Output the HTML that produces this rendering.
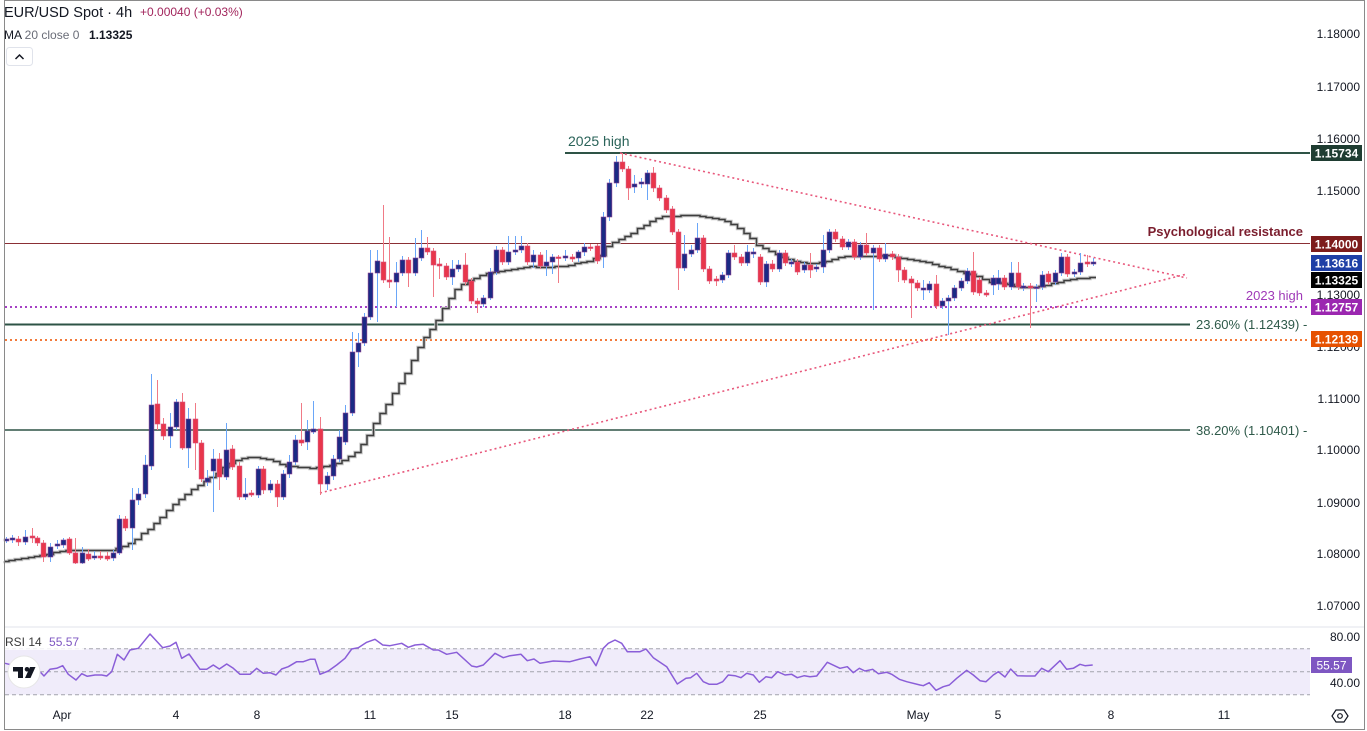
<!DOCTYPE html>
<html><head><meta charset="utf-8">
<style>
html,body{margin:0;padding:0;background:#fff;}
svg{display:block;font-family:"Liberation Sans",sans-serif;}
</style></head><body>
<svg id="c" width="1367" height="731" viewBox="0 0 1367 731" xmlns="http://www.w3.org/2000/svg">
<rect width="1367" height="731" fill="#fff"/>

<!-- RSI band -->
<rect x="5" y="648.7" width="1305" height="46" fill="#f0ecfa"/>
<g stroke="#a3a3ad" stroke-width="1" stroke-dasharray="4 3">
<line x1="5" y1="648.7" x2="1310" y2="648.7"/>
<line x1="5" y1="671.7" x2="1310" y2="671.7"/>
<line x1="5" y1="694.7" x2="1310" y2="694.7"/>
</g>
<line x1="5" y1="627" x2="1364" y2="627" stroke="#e0e3eb" stroke-width="1"/>

<!-- level lines -->
<line x1="5" y1="243.5" x2="1310" y2="243.5" stroke="#8b2f35" stroke-width="1"/>
<line x1="565" y1="153" x2="1310" y2="153" stroke="#2e5346" stroke-width="2"/>
<line x1="5" y1="324.5" x2="1190" y2="324.5" stroke="#2e5346" stroke-width="2"/>
<line x1="5" y1="430" x2="1190" y2="430" stroke="#2e5346" stroke-width="1.6"/>
<line x1="5" y1="307" x2="1310" y2="307" stroke="#a63fc6" stroke-width="2" stroke-dasharray="2 3"/>
<line x1="5" y1="340" x2="1310" y2="340" stroke="#f27a3a" stroke-width="2" stroke-dasharray="2 3"/>

<!-- triangle -->
<line x1="620" y1="153" x2="1187" y2="278" stroke="#e8587c" stroke-width="1.6" stroke-dasharray="2 3"/>
<line x1="320" y1="493" x2="1187" y2="274" stroke="#e8587c" stroke-width="1.6" stroke-dasharray="2 3"/>

<g id="ma"></g>
<g id="candles"></g>

<!-- labels on chart -->
<text x="568" y="146" font-size="14" fill="#2a6359">2025 high</text>
<text x="1303" y="236" font-size="13" font-weight="bold" fill="#7b1e2e" text-anchor="end">Psychological resistance</text>
<text x="1303" y="300" font-size="13" fill="#a03ab8" text-anchor="end">2023 high</text>
<text x="1196" y="329" font-size="13" fill="#2f5a4a">23.60% (1.12439) -</text>
<text x="1196" y="435" font-size="13" fill="#2f5a4a">38.20% (1.10401) -</text>

<!-- price axis -->
<g font-size="12" fill="#131722" text-anchor="end">
<text x="1360" y="38">1.18000</text>
<text x="1360" y="91">1.17000</text>
<text x="1360" y="143">1.16000</text>
<text x="1360" y="195">1.15000</text>
<text x="1360" y="299">1.13000</text>
<text x="1360" y="351">1.12000</text>
<text x="1360" y="403">1.11000</text>
<text x="1360" y="454">1.10000</text>
<text x="1360" y="507">1.09000</text>
<text x="1360" y="558">1.08000</text>
<text x="1360" y="610">1.07000</text>
<text x="1360" y="641">80.00</text>
<text x="1360" y="687">40.00</text>
</g>
<g font-size="12" font-weight="bold" fill="#fff" text-anchor="middle">
<rect x="1311" y="145" width="51" height="16" fill="#1f3d32"/><text x="1336.5" y="157.5">1.15734</text>
<rect x="1311" y="236" width="51" height="16" fill="#7d1c1c"/><text x="1336.5" y="248.5">1.14000</text>
<rect x="1311" y="255" width="51" height="16" fill="#1e3fa6"/><text x="1336.5" y="267.5">1.13616</text>
<rect x="1311" y="272" width="51" height="16" fill="#000"/><text x="1336.5" y="284.5">1.13325</text>
<rect x="1311" y="299" width="51" height="16" fill="#9b27b0"/><text x="1336.5" y="311.5">1.12757</text>
<rect x="1311" y="331" width="51" height="16" fill="#e65100"/><text x="1336.5" y="343.5">1.12139</text>
<rect x="1311" y="657" width="41" height="16" fill="#7e57c2"/><text x="1331.5" y="669.5" font-weight="normal">55.57</text>
</g>

<!-- RSI -->
<polyline id="rsi" fill="none" stroke="#8a5ed8" stroke-width="1.5" stroke-linejoin="round"/>
<rect x="4" y="634" width="80" height="16" fill="#fff" opacity="0.85"/>
<text x="5" y="646" font-size="12" fill="#3a3a3a">RSI 14 <tspan fill="#7e57c2" dx="4">55.57</tspan></text>

<!-- TV logo -->
<circle cx="24" cy="672" r="16" fill="#fff" stroke="#e6e6e6" stroke-width="1"/>
<rect x="13" y="667" width="10" height="4.5" fill="#131722"/>
<rect x="18" y="667" width="5" height="11" fill="#131722"/>
<circle cx="27" cy="669.3" r="2.3" fill="#131722"/>
<polygon points="30,667 35.5,667 30.5,678 25,678" fill="#131722"/>

<!-- time axis -->
<g font-size="12" fill="#131722" text-anchor="middle">
<text x="62" y="719">Apr</text>
<text x="176" y="719">4</text>
<text x="257" y="719">8</text>
<text x="370" y="719">11</text>
<text x="452" y="719">15</text>
<text x="565" y="719">18</text>
<text x="647" y="719">22</text>
<text x="760" y="719">25</text>
<text x="918" y="719">May</text>
<text x="998" y="719">5</text>
<text x="1111" y="719">8</text>
<text x="1224" y="719">11</text>
</g>
<polygon points="1336,710 1344,710 1348,716 1344,722 1336,722 1332,716" fill="none" stroke="#131722" stroke-width="1.2"/>
<circle cx="1340" cy="716" r="2.3" fill="none" stroke="#131722" stroke-width="1.2"/>

<!-- header -->
<text x="4" y="17" font-size="14.5" fill="#131722">EUR/USD Spot · 4h</text>
<text x="140" y="16" font-size="12" fill="#a2255c">+0.00040 (+0.03%)</text>
<text x="4" y="39" font-size="12" fill="#131722">MA <tspan fill="#6a6d78">20 close 0</tspan></text>
<text x="89" y="39" font-size="12" font-weight="bold" fill="#131722">1.13325</text>
<rect x="6.5" y="47.5" width="26" height="18" rx="3" fill="#fff" stroke="#e0e3eb"/>
<polyline points="15.5,59 19.5,55 23.5,59" fill="none" stroke="#131722" stroke-width="1.5"/>

<!-- border -->
<rect x="4.5" y="0.5" width="1360" height="729" fill="none" stroke="#8a8a8a" stroke-width="1"/>
</svg>
<script>
(function(){
var NS="http://www.w3.org/2000/svg";
var C=[
[6,539,541,'b',537,543],[12,538,540,'b',535,543],[18,539,542,'r',536,546],[25,537,542,'b',530,545],
[32,536,538,'r',528,543],[37,538,543,'r',536,546],[43,543,557,'r',540,562],[50,547,557,'b',543,562],
[57,544,546,'b',540,549],[63,540,545,'b',538,548],[69,539,553,'r',537,555],[75,553,563,'r',538,564],
[82,553,563,'b',547,564],[88,554,559,'r',549,561],[94,556,558,'b',551,560],[100,556,558,'r',551,560],
[107,556,559,'r',552,561],[113,553,558,'b',550,561],[119,519,553,'b',515,555],[125,519,528,'r',516,531],
[132,500,528,'b',488,550],[138,494,500,'b',488,505],[145,465,494,'b',455,498],[151,405,466,'b',374,470],
[157,404,424,'r',380,430],[163,424,436,'r',418,440],[170,427,436,'b',413,448],[176,402,427,'b',399,430],
[182,402,448,'r',393,450],[188,419,448,'b',408,468],[195,419,443,'r',403,470],[201,443,479,'r',440,482],
[207,478,482,'b',470,486],[213,459,471,'b',449,512],[219,459,477,'r',453,490],[226,450,477,'b',423,480],
[232,449,467,'r',445,470],[239,466,497,'r',462,500],[245,494,497,'b',478,500],[251,493,495,'r',490,497],
[258,469,495,'b',466,498],[263,469,490,'r',466,494],[270,484,490,'b',480,493],[277,484,497,'r',480,507],
[283,474,497,'b',470,500],[289,462,474,'b',455,478],[295,440,462,'b',435,465],[301,440,443,'r',403,446],
[307,431,442,'b',420,450],[313,429,432,'b',401,434],[320,429,484,'r',417,495],[327,476,484,'b',472,490],
[333,459,476,'b',455,480],[339,437,459,'b',430,462],[345,413,442,'b',405,445],[352,352,413,'b',332,416],
[358,343,352,'b',333,367],[364,317,343,'b',313,346],[370,273,317,'b',250,320],[377,261,273,'b',250,322],
[383,262,280,'r',205,283],[389,280,282,'r',237,288],[396,273,282,'b',262,307],[402,260,273,'b',256,276],
[408,260,273,'r',257,287],[415,258,273,'b',238,276],[421,248,258,'b',230,261],[427,248,252,'r',237,255],
[433,251,265,'r',248,297],[439,264,266,'r',258,279],[446,266,277,'r',263,280],[452,269,277,'b',260,285],
[458,265,269,'b',260,272],[465,265,282,'r',253,285],[471,281,301,'r',278,304],[477,301,304,'r',298,313],
[483,298,304,'b',295,307],[490,272,298,'b',268,300],[496,250,272,'b',246,275],[502,250,262,'r',247,265],
[508,252,262,'b',236,265],[515,250,252,'b',236,255],[521,246,250,'b',236,253],[527,246,262,'r',243,265],
[533,255,262,'b',250,268],[540,255,266,'r',252,269],[546,262,266,'b',250,276],[552,257,262,'b',254,274],
[558,257,258,'r',255,283],[565,256,258,'b',250,261],[572,257,259,'r',254,262],[578,252,258,'b',250,262],
[584,247,252,'b',243,256],[590,247,248,'r',244,251],[597,246,261,'r',244,264],[603,217,257,'b',212,268],
[609,183,217,'b',179,221],[616,162,183,'b',156,187],[622,162,169,'r',153,172],[628,169,188,'r',166,200],
[634,184,187,'b',175,193],[641,182,184,'b',178,188],[647,173,184,'b',170,200],[653,173,188,'r',167,192],
[659,188,198,'r',185,201],[666,198,210,'r',195,213],[672,209,232,'r',206,235],[678,232,268,'r',229,290],
[684,254,268,'b',235,271],[691,250,254,'b',245,257],[697,238,250,'b',223,253],[703,238,269,'r',235,272],
[709,269,281,'r',266,284],[716,279,281,'r',276,286],[722,275,280,'b',272,283],[728,253,275,'b',250,278],
[734,253,257,'r',245,260],[741,257,263,'r',254,266],[747,252,263,'b',245,266],[753,252,254,'b',248,258],
[760,257,282,'r',254,285],[766,264,282,'b',261,287],[772,264,269,'r',260,272],[779,253,269,'b',250,272],
[785,253,263,'r',250,266],[791,262,264,'b',259,267],[797,262,272,'r',259,275],[804,265,270,'b',262,273],
[810,265,270,'r',253,278],[816,267,269,'b',264,272],[823,250,267,'b',235,273],[829,232,250,'b',229,253],
[835,232,239,'r',229,242],[842,239,247,'r',236,250],[848,242,247,'b',239,250],[854,242,257,'r',239,260],
[860,245,257,'b',242,260],[866,245,253,'r',233,256],[873,248,253,'b',245,310],[879,248,259,'r',245,262],
[885,254,259,'b',243,262],[892,254,257,'r',251,260],[898,257,270,'r',254,282],[904,270,280,'r',267,283],
[911,279,283,'r',276,318],[917,283,288,'r',280,291],[923,288,290,'b',280,300],[929,284,290,'b',281,293],
[936,284,306,'r',275,309],[942,301,306,'b',298,309],[948,298,301,'b',295,335],[954,288,298,'b',285,301],
[961,281,288,'b',278,291],[967,271,281,'b',268,284],[973,271,292,'r',252,295],[979,280,293,'r',277,296],
[986,293,295,'r',290,297],[993,278,285,'b',275,295],[998,278,284,'b',270,290],[1004,278,287,'r',275,290],
[1011,273,287,'b',262,290],[1018,273,287,'r',262,290],[1023,286,288,'b',283,291],[1030,286,288,'r',283,328],
[1036,287,288,'b',284,302],[1042,275,287,'b',271,290],[1048,274,282,'r',271,285],[1055,273,282,'b',270,285],
[1061,257,273,'b',253,276],[1067,257,274,'r',254,277],[1074,272,274,'b',269,277],[1080,263,272,'b',253,275],
[1087,262,264,'r',255,267],[1093,262,264,'b',258,266]
];
var M=[[5,561],[43,555],[67,550],[113,550],[133,543],[153,527],[173,507],[193,490],[213,477],[233,462],[253,456],[273,460],[290,466],[317,468],[333,465],[350,458],[360,450],[370,435],[380,418],[390,402],[398,390],[410,370],[423,343],[437,323],[443,313],[457,290],[470,280],[490,273],[510,270],[530,266],[550,267],[570,265],[593,260],[603,255],[610,245],[627,237],[643,227],[660,217],[670,216],[693,215],[710,217],[727,220],[740,227],[750,235],[760,245],[773,252],[793,260],[813,263],[827,262],[840,257],[853,256],[870,256],[893,255],[903,258],[927,261],[947,267],[960,271],[977,275],[993,282],[1007,283],[1020,287],[1033,287],[1047,285],[1060,282],[1073,279],[1093,277]];
function mi(x){for(var i=0;i<M.length-1;i++){if(x>=M[i][0]&&x<=M[i+1][0]){var t=(x-M[i][0])/(M[i+1][0]-M[i][0]);return M[i][1]+t*(M[i+1][1]-M[i][1]);}}return x<M[0][0]?M[0][1]:M[M.length-1][1];}
var d="M5,"+Math.round(mi(5)).toFixed(1);
for(var i=0;i<C.length;i++){var x=C[i][0];var y=Math.round(mi(x))+0.5;var x1=(i==C.length-1?x+3:(C[i+1][0]+x)/2);d+=" V"+y+" H"+x1;}
var g=document.getElementById('ma');
var p1=document.createElementNS(NS,'path');p1.setAttribute('d',d);p1.setAttribute('fill','none');p1.setAttribute('stroke','#c4c4c4');p1.setAttribute('stroke-width','3.4');g.appendChild(p1);
var p2=document.createElementNS(NS,'path');p2.setAttribute('d',d);p2.setAttribute('fill','none');p2.setAttribute('stroke','#3e3e3e');p2.setAttribute('stroke-width','1.5');g.appendChild(p2);
var cg=document.getElementById('candles');
C.forEach(function(c){
var x=c[0]+0.5,t=c[1],b=c[2],bull=c[3]=='b',wt=c[4],wb=c[5];
var w=document.createElementNS(NS,'line');
w.setAttribute('x1',x);w.setAttribute('x2',x);w.setAttribute('y1',wt);w.setAttribute('y2',wb);
w.setAttribute('stroke',bull?'#6aa6f8':'#f07a86');w.setAttribute('stroke-width','1');cg.appendChild(w);
var r=document.createElementNS(NS,'rect');
var h=Math.max(b-t,1.5);
r.setAttribute('x',x-2.4);r.setAttribute('y',t);r.setAttribute('width',4.8);r.setAttribute('height',h);
r.setAttribute('fill',bull?'#1b2a84':'#e8364b');r.setAttribute('stroke',bull?'#8a3f8f':'#d8507a');r.setAttribute('stroke-width','0.6');
cg.appendChild(r);
});
var R=[[5,663.3],[40,671.7],[44,676],[50,669.3],[56.7,668.3],[62.7,665.7],[68.3,674.3],[76,680],[81.7,673.7],[87.3,676.3],[95,675],[101.7,675],[106.7,676],[111.7,671.7],[117.3,654.3],[124,660],[130,650],[138.3,648.3],[150,634],[162.7,647.7],[170,646],[176,642.3],[181.7,658.3],[189,654],[200,669.3],[206.7,669.3],[213.3,665],[219.3,669],[226.7,664],[233.3,668.3],[240,674.3],[250,674.3],[256.7,668.3],[263.3,673.3],[270,672.7],[276,675],[281.7,669],[288.3,666.7],[296.7,661.7],[303.3,661.7],[310,659.3],[315,659.3],[320,674.3],[328.3,671],[336.7,665],[345,658.3],[351.7,649],[358.3,647.7],[366.7,642.3],[375,639.3],[382.7,645],[390,645.7],[401.7,643.3],[408.3,647.3],[415,645],[423.3,644.3],[433.3,650],[438.3,650],[446.7,654.3],[456.7,652.3],[471.7,666],[476.7,667],[483.3,665],[495,653.3],[503.3,657.7],[510,655.7],[521,654.3],[527.3,660.7],[534,659],[540,663.3],[553.3,661],[570,661.7],[580,659],[590,656.7],[596,665.7],[603.3,648.3],[608.3,643.3],[615,640],[621.7,643.3],[627.3,651.7],[640,651.7],[646,649],[653.3,657.7],[666.7,666.7],[677.3,684],[686,678.3],[690.7,677.7],[696.7,673.3],[703.3,681.7],[709.3,684.3],[716.7,684.3],[722.7,681.7],[728.3,675],[735,675.7],[741,677.7],[746.7,673.3],[753.3,675],[759.3,682.3],[766,676.7],[771.7,677.7],[777.7,671.7],[785,675],[791.7,674.3],[797.3,677.7],[804.3,675.7],[810,676.7],[816.7,676],[827.3,662.3],[840,668.3],[847.3,666.7],[853.3,672.7],[859.3,668.3],[865,671],[872.7,669.3],[878.3,673.7],[886.7,672.3],[891.7,674.3],[899.3,679.3],[906.7,681.7],[920,685],[923.3,685.7],[929.3,682.7],[936,690.3],[943.3,686.7],[949.3,685],[956.7,678.3],[966.7,670.3],[973.3,675],[980,680.7],[986,681.7],[993.3,675],[998.3,671.7],[1005,677],[1010.7,669],[1017.3,675.7],[1026.7,676],[1035,676],[1041.7,668.3],[1048.3,671.7],[1060,660.7],[1066.7,669.3],[1073.3,668.3],[1080,664.3],[1085,665.7],[1092.7,665]];
document.getElementById('rsi').setAttribute('points',R.map(function(p){return p[0]+','+p[1];}).join(' '));
})();
</script>
</body></html>
